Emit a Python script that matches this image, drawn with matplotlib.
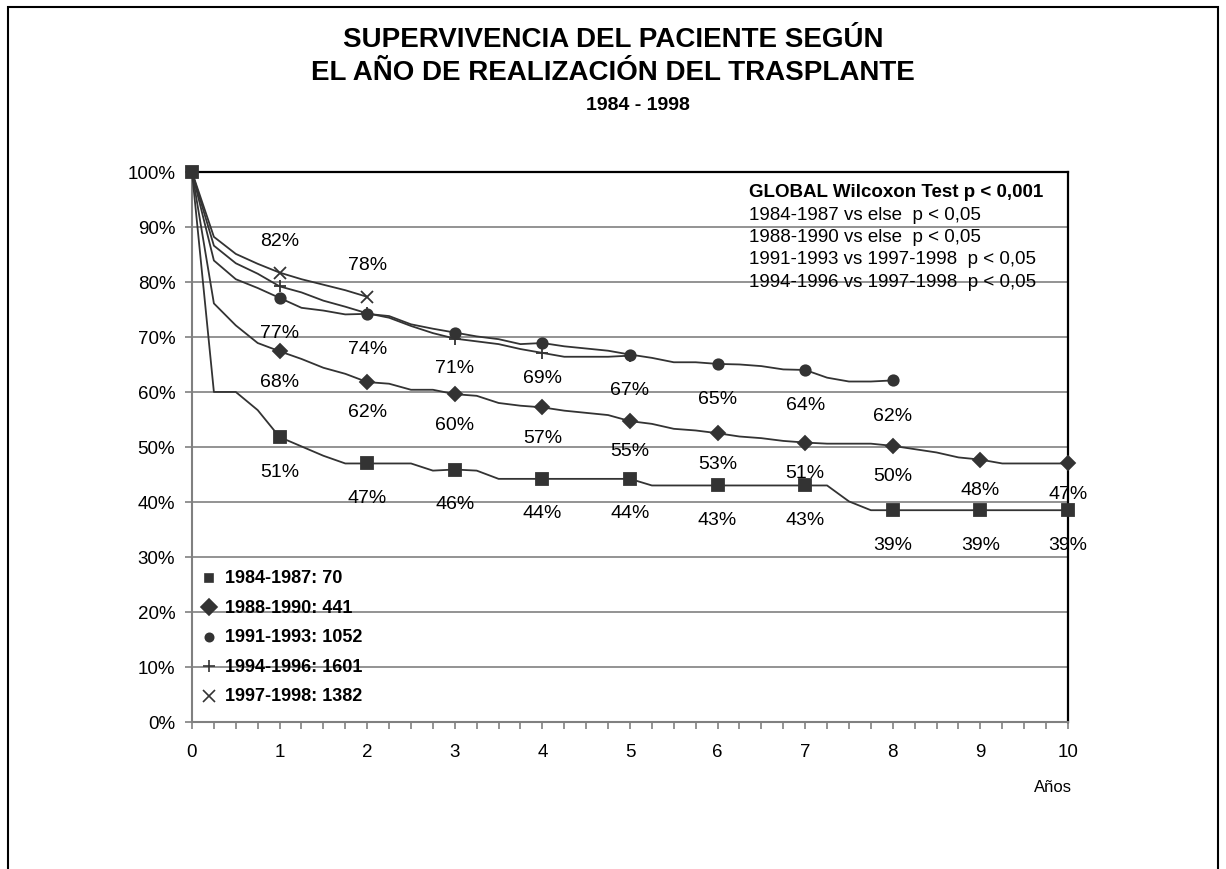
import numpy as np
import matplotlib.pyplot as plt
from matplotlib.patches import Rectangle

plt.rcParams['font.family'] = ['Liberation Sans', 'DejaVu Sans']

# survival (%) read every quarter of a year
sq_vals = [100, 60, 60, 56.7, 51.8, 50.1, 48.4, 47.0, 47.0, 47.0, 47.0, 45.7, 45.9,
           45.7, 44.2, 44.2, 44.2, 44.2, 44.2, 44.2, 44.2, 43.0, 43.0, 43.0, 43.0,
           43.0, 43.0, 43.0, 43.0, 43.0, 40.1, 38.5, 38.5, 38.5, 38.5, 38.5, 38.5,
           38.5, 38.5, 38.5, 38.5]
di_vals = [100, 76.1, 72.1, 68.9, 67.4, 66.0, 64.4, 63.3, 61.8, 61.5, 60.4, 60.4,
           59.6, 59.3, 58.0, 57.5, 57.2, 56.6, 56.2, 55.8, 54.7, 54.2, 53.3, 53.0,
           52.5, 51.9, 51.6, 51.1, 50.8, 50.6, 50.6, 50.6, 50.2, 49.6, 49.0, 48.1,
           47.7, 47.0, 47.0, 47.0, 47.0]
ci_vals = [100, 83.9, 80.5, 78.9, 77.1, 75.3, 74.8, 74.1, 74.2, 73.8, 72.3, 71.5,
           70.8, 70.1, 69.6, 68.7, 68.9, 68.3, 67.9, 67.5, 66.8, 66.2, 65.4, 65.4,
           65.1, 65.0, 64.7, 64.1, 64.0, 62.6, 61.9, 61.9, 62.1]
pl_vals = [100, 86.6, 83.4, 81.5, 79.2, 78.1, 76.6, 75.5, 74.3, 73.5, 72.0, 70.7,
           69.7, 69.2, 68.7, 67.8, 67.1, 66.4, 66.4, 66.4, 66.6]
xx_vals = [100, 88.2, 85.1, 83.3, 81.7, 80.5, 79.5, 78.5, 77.3]

sq_labels = ["51%", "47%", "46%", "44%", "44%", "43%", "43%", "39%", "39%", "39%"]
di_labels = ["68%", "62%", "60%", "57%", "55%", "53%", "51%", "50%", "48%", "47%"]
ci_labels = ["77%", "74%", "71%", "69%", "67%", "65%", "64%", "62%"]
xx_labels = ["82%", "78%"]

legend_names = ["1984-1987: 70", "1988-1990: 441", "1991-1993: 1052",
                "1994-1996: 1601", "1997-1998: 1382"]
test_lines = ["1984-1987 vs else  p < 0,05", "1988-1990 vs else  p < 0,05",
              "1991-1993 vs 1997-1998  p < 0,05", "1994-1996 vs 1997-1998  p < 0,05"]

col = '#333333'
fig = plt.figure(figsize=(12.26, 8.7), dpi=100)
ax = fig.add_axes([0.1566, 0.1690, 0.7145, 0.6322])

series = [(sq_vals, 's', 8, sq_labels, -24.5),
          (di_vals, 'D', 7, di_labels, -21.5),
          (ci_vals, 'o', 7.5, ci_labels, -25),
          (pl_vals, '+', 9, None, 0),
          (xx_vals, 'x', 8, xx_labels, 23)]

for vals, mk, ms, labs, off in series[::-1]:
    t = np.arange(len(vals)) * 0.25
    start = 0 if mk == 's' else 4
    ax.plot(t, vals, color=col, lw=1.3, marker=mk, ms=ms, mew=1.3,
            markevery=list(range(start, len(vals), 4)), clip_on=False, zorder=3)
    if labs:
        for i, lab in enumerate(labs):
            ax.annotate(lab, (i + 1, vals[4 * (i + 1)]), xytext=(0, off),
                        textcoords='offset points', ha='center', va='center',
                        fontsize=14, zorder=4)

ax.set_xlim(0, 10)
ax.set_ylim(0, 100)
ax.set_xticks(range(11))
ax.set_xticks(np.arange(41) * 0.25, minor=True)
ax.set_yticks(range(0, 101, 10))
ax.set_yticklabels([f"{v}%" for v in range(0, 101, 10)])
ax.tick_params(axis='both', which='both', direction='out', length=5, width=1.2,
               color='#808080', labelsize=13.5)
ax.tick_params(axis='y', pad=7)
ax.tick_params(axis='x', pad=10)
ax.yaxis.grid(True, color='#808080', lw=1.2)
ax.set_axisbelow(True)
for s in ['left', 'bottom']:
    ax.spines[s].set_color('#808080')
    ax.spines[s].set_linewidth(1.5)
for s in ['top', 'right']:
    ax.spines[s].set_color('black')
    ax.spines[s].set_linewidth(1.6)

ax.text(1.005, -0.117, "Años", transform=ax.transAxes, ha='right', va='center',
        fontsize=12)

# legend drawn by hand, markers only
leg_mk = [('s', 6), ('D', 8), ('o', 6), ('+', 9), ('x', 8)]
for i, (name, (mk, ms)) in enumerate(zip(legend_names, leg_mk)):
    y = 0.262 - i * 0.0535
    ax.plot([0.0194], [y], marker=mk, ms=ms, color=col, mew=1.2,
            transform=ax.transAxes, clip_on=False)
    ax.text(0.038, y, name, transform=ax.transAxes, va='center', ha='left',
            fontsize=13, fontweight='bold')

# test results box
fig.text(749 / 1226, 1 - 193 / 870, "GLOBAL Wilcoxon Test p < 0,001",
         fontsize=13.5, fontweight='bold', va='center')
for i, line in enumerate(test_lines):
    fig.text(749 / 1226, 1 - (215 + i * 22.5) / 870, line, fontsize=13.5, va='center')

fig.text(0.5, 1 - 40 / 870, "SUPERVIVENCIA DEL PACIENTE SEGÚN", ha='center',
         va='center', fontsize=20, fontweight='bold')
fig.text(0.5, 1 - 73 / 870, "EL AÑO DE REALIZACIÓN DEL TRASPLANTE", ha='center',
         va='center', fontsize=20, fontweight='bold')
fig.text(0.52, 1 - 105 / 870, "1984 - 1998", ha='center', va='center',
         fontsize=14, fontweight='bold')

fig.patches.append(Rectangle((8 / 1226, -0.05), 1210 / 1226, 1.05 - 8 / 870,
                             transform=fig.transFigure, fill=False,
                             edgecolor='black', lw=1.5))

fig.savefig('out.png', dpi=100)
